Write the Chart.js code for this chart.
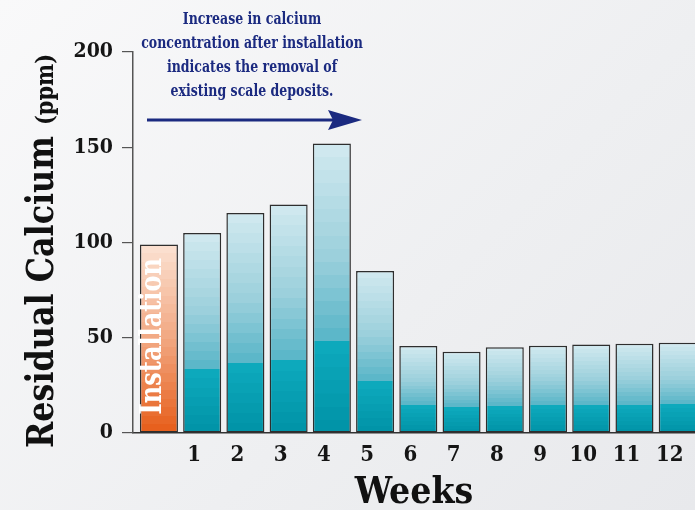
<!DOCTYPE html>
<html>
<head>
<meta charset="utf-8">
<script src="https://cdn.jsdelivr.net/npm/chart.js@4"></script>
<style>
  html, body { margin: 0; padding: 0; }
  body { width: 695px; height: 510px; overflow: hidden;
         background: linear-gradient(135deg, #f9f9fa 0%, #eeeff1 60%, #e8e9ec 100%); }
  #wrap { position: relative; width: 695px; height: 510px; }
</style>
</head>
<body>
<div id="wrap"><canvas id="calcium-chart" width="695" height="510"></canvas></div>
<script>
// chart data
const weekLabels = ['', '1', '2', '3', '4', '5', '6', '7', '8', '9', '10', '11', '12'];
const calcium = [99, 105, 115.5, 120, 152, 85, 45.7, 42.7, 45, 45.8, 46.4, 46.9, 47.4];
const installLabel = 'Installation';
const noteLines = ['Increase in calcium', 'concentration after installation', 'indicates the removal of', 'existing scale deposits.'];
const yTitleMain = 'Residual Calcium ';
const yTitleUnit = '(ppm)';
const xTitle = 'Weeks';

const FONT = "'DejaVu Serif Condensed', 'DejaVu Serif', serif";
const navy = '#1b2a80';

const tealStops = [[0, '#d2eaf0'], [0.4, '#9acfdb'], [0.66, '#5cb7c9'], [0.69, '#0eaabd'], [1, '#0092a6']];
const orangeStops = [[0, '#fbe2d3'], [0.5, '#f2a781'], [1, '#e65d19']];

function hexToRgb(h) {
  return [1, 3, 5].map(i => parseInt(h.substr(i, 2), 16));
}
function colorAt(stops, t) {
  for (let i = 1; i < stops.length; i++) {
    if (t <= stops[i][0]) {
      const a = stops[i - 1], b = stops[i];
      const f = (t - a[0]) / (b[0] - a[0] || 1);
      const ca = hexToRgb(a[1]), cb = hexToRgb(b[1]);
      return 'rgb(' + ca.map((v, k) => Math.round(v + (cb[k] - v) * f)).join(',') + ')';
    }
  }
  return stops[stops.length - 1][1];
}

// banded vertical gradient, one per bar
function barFill(c) {
  const chart = c.chart;
  const stops = c.dataIndex === 0 ? orangeStops : tealStops;
  if (!chart.chartArea) return stops[stops.length - 1][1];
  const y = chart.scales.y;
  const top = y.getPixelForValue(calcium[c.dataIndex]);
  const base = y.getPixelForValue(0);
  const g = chart.ctx.createLinearGradient(0, top, 0, base);
  const bands = 22;
  for (let i = 0; i < bands; i++) {
    const col = colorAt(stops, (i + 0.5) / bands);
    g.addColorStop(i / bands, col);
    g.addColorStop((i + 1) / bands - 0.0001, col);
  }
  return g;
}

const overlay = {
  id: 'overlay',
  afterDatasetsDraw(chart) {
    const ctx = chart.ctx;
    const bar = chart.getDatasetMeta(0).data[0];
    ctx.save();
    ctx.translate(bar.x + 2, bar.base - 18);
    ctx.rotate(-Math.PI / 2);
    ctx.scale(0.92, 1);
    ctx.font = 'bold 29px ' + FONT;
    ctx.fillStyle = '#ffffff';
    ctx.textAlign = 'left';
    ctx.textBaseline = 'alphabetic';
    ctx.fillText(installLabel, 0, 0);
    ctx.restore();
  },
  afterDraw(chart) {
    const ctx = chart.ctx;
    const area = chart.chartArea;
    // note text
    ctx.save();
    ctx.fillStyle = navy;
    ctx.textAlign = 'center';
    ctx.textBaseline = 'middle';
    ctx.font = 'bold 17px ' + FONT;
    noteLines.forEach((line, i) => {
      ctx.save();
      ctx.translate(252, 20 + i * 23.7);
      ctx.scale(0.82, 1);
      ctx.fillText(line, 0, 0);
      ctx.restore();
    });
    // arrow
    ctx.strokeStyle = navy;
    ctx.lineWidth = 3;
    ctx.beginPath();
    ctx.moveTo(area.left + 14, 120);
    ctx.lineTo(335, 120);
    ctx.stroke();
    ctx.beginPath();
    ctx.moveTo(362, 120);
    ctx.lineTo(328, 110);
    ctx.lineTo(333, 120);
    ctx.lineTo(328, 130);
    ctx.closePath();
    ctx.fill();
    ctx.restore();

    // y axis title, two sizes
    ctx.save();
    ctx.fillStyle = '#111';
    ctx.translate(53, 251);
    ctx.rotate(-Math.PI / 2);
    ctx.scale(0.93, 1);
    ctx.textBaseline = 'alphabetic';
    ctx.textAlign = 'left';
    const bigFont = 'bold 38px ' + FONT, smallFont = 'bold 25px ' + FONT;
    ctx.font = bigFont;
    const w1 = ctx.measureText(yTitleMain).width;
    ctx.font = smallFont;
    const w2 = ctx.measureText(yTitleUnit).width;
    const start = -(w1 + w2) / 2;
    ctx.font = bigFont;
    ctx.fillText(yTitleMain, start, 0);
    ctx.font = smallFont;
    ctx.fillText(yTitleUnit, start + w1, 0);
    ctx.restore();
  }
};

const ctx = document.getElementById('calcium-chart').getContext('2d');
const calciumChart = new Chart(ctx, {
  type: 'bar',
  plugins: [overlay],
  data: {
    datasets: [{
      data: calcium.map((v, i) => ({ x: i, y: v })),
      backgroundColor: barFill,
      borderColor: '#2e2e2e',
      borderWidth: 1.5,
      borderSkipped: false,
      categoryPercentage: 1,
      barPercentage: 0.88
    }]
  },
  options: {
    responsive: false,
    animation: false,
    layout: { padding: { top: 52, right: 0, bottom: 0, left: 0 } },
    plugins: {
      legend: { display: false },
      tooltip: { enabled: false }
    },
    scales: {
      x: {
        type: 'linear',
        offset: false,
        min: -0.6,
        max: 12.4,
        grid: { display: false, drawTicks: false, offset: false },
        border: { display: true, color: '#333', width: 1.5 },
        afterBuildTicks: (scale) => { scale.ticks = weekLabels.map((_, i) => ({ value: i })); },
        ticks: {
          autoSkip: false,
          maxRotation: 0,
          padding: 0,
          labelOffset: -8,
          color: '#151515',
          font: { family: FONT, size: 22, weight: 'bold', lineHeight: 2 },
          callback: (v) => weekLabels[v] || ''
        },
        title: {
          display: true,
          text: xTitle,
          color: '#111',
          font: { family: FONT, size: 37, weight: 'bold' },
          padding: { top: 0, bottom: -6 }
        },
        afterFit: (scale) => { scale.height = 77; }
      },
      y: {
        min: 0,
        max: 200,
        grid: { drawOnChartArea: false, tickLength: 11, color: '#555', lineWidth: 1.2 },
        border: { display: true, color: '#555', width: 1.5 },
        ticks: {
          stepSize: 50,
          padding: 9,
          color: '#151515',
          font: { family: FONT, size: 21, weight: 'bold' }
        },
        afterFit: (scale) => { scale.width = 133; }
      }
    }
  }
});
</script>
</body>
</html>
